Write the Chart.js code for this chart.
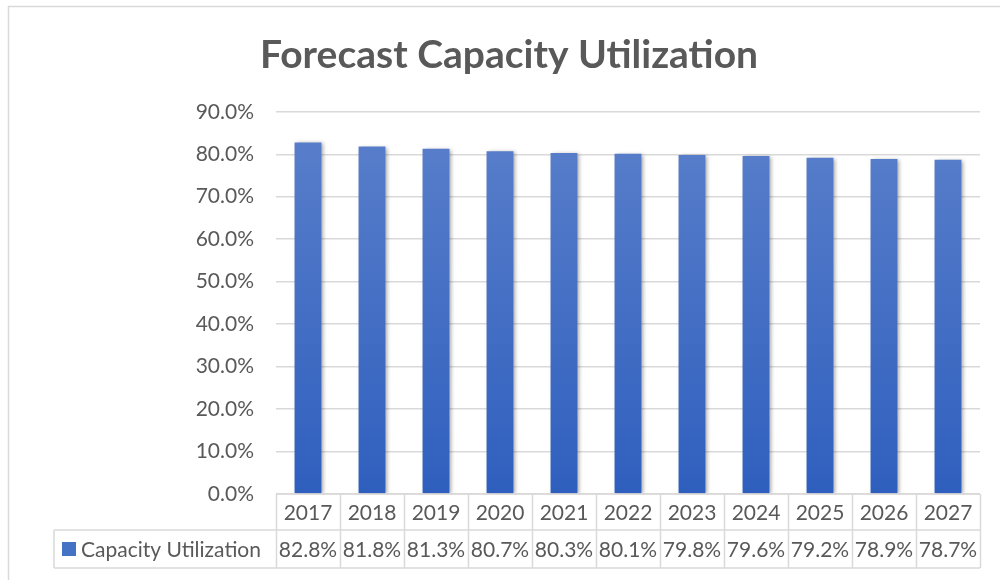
<!DOCTYPE html>
<html lang="en">
<head>
    <meta charset="UTF-8">
    <title>Forecast Capacity Utilization</title>
    <script src="https://cdn.jsdelivr.net/npm/chart.js"></script>
    <style>
        html, body { margin: 0; padding: 0; background: #fff; }
        .canvas-container { width: 1000px; height: 580px; position: relative; }
    </style>
</head>
<body>
<div class="canvas-container">
    <canvas id="myChart" width="1000" height="580"></canvas>
</div>
<script>
  // chart data
  const years = ['2017', '2018', '2019', '2020', '2021', '2022', '2023', '2024', '2025', '2026', '2027'];
  const utilization = [82.8, 81.8, 81.3, 80.7, 80.3, 80.1, 79.8, 79.6, 79.2, 78.9, 78.7];
  const seriesName = 'Capacity Utilization';

  const textColor = '#595959';
  const lineColor = '#d9d9d9';
  const fontFamily = 'Lato, "Open Sans", sans-serif';

  // outer frame, bar shadow and the data table under the plot
  const tablePlugin = {
    id: 'dataTable',
    beforeDraw(chart) {
      const c = chart.ctx;
      c.save();
      c.strokeStyle = lineColor;
      c.lineWidth = 1.5;
      c.beginPath();
      c.moveTo(8.5, 580);
      c.lineTo(8.5, 6.5);
      c.lineTo(1000, 6.5);
      c.stroke();
      c.restore();
    },
    beforeDatasetsDraw(chart) {
      const c = chart.ctx;
      c.save();
      c.shadowColor = 'rgba(0,0,0,0.35)';
      c.shadowBlur = 4;
      c.shadowOffsetX = 2;
      c.shadowOffsetY = 1;
    },
    afterDatasetsDraw(chart) {
      chart.ctx.restore();
    },
    afterDraw(chart) {
      const c = chart.ctx;
      const area = chart.chartArea;
      const x = chart.scales.x;
      const w = (area.right - area.left) / years.length;
      const top = area.bottom;
      const mid = top + 36;
      const bot = mid + 38;
      const legendLeft = 54;

      c.save();
      c.strokeStyle = lineColor;
      c.lineWidth = 1.5;
      c.beginPath();
      // horizontal lines
      c.moveTo(area.left, top);
      c.lineTo(area.right, top);
      c.moveTo(legendLeft, mid);
      c.lineTo(area.right, mid);
      c.moveTo(legendLeft, bot);
      c.lineTo(area.right, bot);
      // vertical lines
      c.moveTo(legendLeft, mid);
      c.lineTo(legendLeft, bot);
      for (let i = 0; i <= years.length; i++) {
        const px = Math.round(area.left + i * w) + 0.5;
        c.moveTo(px, top);
        c.lineTo(px, bot);
      }
      c.stroke();

      c.fillStyle = textColor;
      c.font = '21px ' + fontFamily;
      c.textAlign = 'center';
      c.textBaseline = 'middle';
      years.forEach((yr, i) => {
        const cx = x.getPixelForValue(i);
        c.fillText(yr, cx, (top + mid) / 2 + 1);
        c.fillText(utilization[i].toFixed(1) + '%', cx, (mid + bot) / 2 + 1);
      });

      // legend key
      c.fillStyle = '#4472c4';
      c.fillRect(62, (mid + bot) / 2 - 7, 14, 14);
      c.fillStyle = textColor;
      c.textAlign = 'left';
      c.fillText(seriesName, 81, (mid + bot) / 2 + 1);
      c.restore();
    }
  };

  const ctx = document.getElementById('myChart').getContext('2d');
  const myChart = new Chart(ctx, {
    type: 'bar',
    data: {
      labels: years,
      datasets: [{
        label: seriesName,
        data: utilization,
        backgroundColor: function(context) {
          const area = context.chart.chartArea;
          if (!area) return '#4472c4';
          const g = context.chart.ctx.createLinearGradient(0, area.top, 0, area.bottom);
          g.addColorStop(0, '#5b80cb');
          g.addColorStop(1, '#2f5fbe');
          return g;
        },
        categoryPercentage: 1,
        barPercentage: 0.42
      }]
    },
    options: {
      responsive: false,
      animation: false,
      layout: {
        padding: { left: 38, right: 20, top: 0, bottom: 86 }
      },
      plugins: {
        legend: { display: false },
        tooltip: { enabled: false },
        title: {
          display: true,
          text: 'Forecast Capacity Utilization',
          color: textColor,
          font: { family: fontFamily, size: 39, weight: 'bold' },
          padding: { top: 32, bottom: 33 }
        }
      },
      scales: {
        x: {
          display: false
        },
        y: {
          min: 0,
          max: 90,
          ticks: {
            stepSize: 10,
            color: textColor,
            padding: 22,
            font: { family: fontFamily, size: 21 },
            callback: v => v.toFixed(1) + '%'
          },
          grid: { color: lineColor, lineWidth: 1.5, drawTicks: false },
          border: { display: false },
          afterFit: scale => { scale.width = 238; }
        }
      }
    },
    plugins: [tablePlugin]
  });
</script>
</body>
</html>
